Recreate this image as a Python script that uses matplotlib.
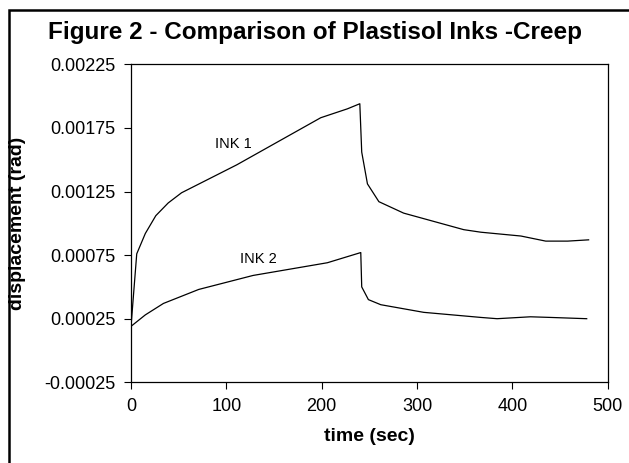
import matplotlib
matplotlib.use('Agg')
import matplotlib.pyplot as plt
from matplotlib.patches import Rectangle

plt.rcParams['font.family'] = ['Liberation Sans', 'DejaVu Sans']
plt.rcParams['axes.unicode_minus'] = False

# creep curves
ink1_time = [0, 6, 15, 26, 39, 53, 111, 199, 227, 240, 242, 248, 260, 286, 349, 367, 409, 435, 458, 480]
ink1_disp = [0.00019, 0.00076, 0.00092, 0.00106, 0.00116, 0.00124, 0.00146, 0.00183, 0.00190, 0.00194,
             0.00156, 0.00131, 0.00117, 0.00108, 0.00095, 0.00093, 0.00090, 0.00086, 0.00086, 0.00087]

ink2_time = [0, 15, 34, 71, 128, 206, 241, 242, 249, 262, 307, 367, 384, 419, 440, 478]
ink2_disp = [0.00019, 0.00028, 0.00037, 0.00048, 0.00059, 0.00069, 0.00077, 0.00050,
             0.00040, 0.00036, 0.00030, 0.00026, 0.00025, 0.000265, 0.00026, 0.00025]

y_ticks = [-0.00025, 0.00025, 0.00075, 0.00125, 0.00175, 0.00225]
y_labels = ['-0.00025', '0.00025', '0.00075', '0.00125', '0.00175', '0.00225']
x_ticks = [0, 100, 200, 300, 400, 500]

fig = plt.figure(figsize=(6.29, 4.63), dpi=100)
ax = fig.add_axes([0.2083, 0.1743, 0.7578, 0.6868])

ax.plot(ink1_time, ink1_disp, color='black', linewidth=0.9)
ax.plot(ink2_time, ink2_disp, color='black', linewidth=0.9)

ax.text(107, 0.001623, 'INK 1', fontsize=10.5, ha='center', va='center')
ax.text(134, 0.00072, 'INK 2', fontsize=10.5, ha='center', va='center')

ax.set_xlim(0, 500)
ax.set_ylim(-0.00025, 0.00225)
ax.set_xticks(x_ticks)
ax.set_yticks(y_ticks)
ax.set_yticklabels(y_labels)
ax.tick_params(direction='out', length=5, width=0.8, labelsize=13, pad=6)

for s in ax.spines.values():
    s.set_linewidth(0.9)
    s.set_color('black')

ax.set_xlabel('time (sec)', fontsize=14, fontweight='bold', labelpad=10)
ax.set_ylabel('displacement (rad)', fontsize=14, fontweight='bold')
ax.yaxis.set_label_coords(-0.221, 0.5)

fig.text(0.5, 1 - 33 / 463, 'Figure 2 - Comparison of Plastisol Inks -Creep',
         fontsize=17.5, fontweight='bold', ha='center', va='center')

# thick frame around the chart (cut off at right and bottom)
fig.add_artist(Rectangle((9.3 / 629, -0.1), 1.2, 1 - 10 / 463 + 0.1,
                         transform=fig.transFigure, fill=False,
                         edgecolor='black', linewidth=1.8))

fig.savefig('out.png', dpi=100)
